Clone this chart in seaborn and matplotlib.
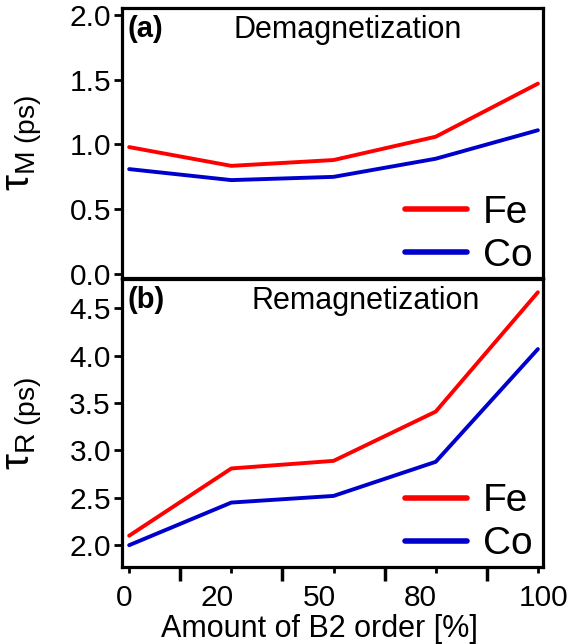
import numpy as np
import pandas as pd
import matplotlib
matplotlib.use("Agg")
import matplotlib.pyplot as plt
import matplotlib.transforms as mtransforms
import seaborn as sns

# values
b2_order = ["0", "20", "50", "80", "100"]
tau_m_fe = [0.98, 0.835, 0.88, 1.06, 1.47]
tau_m_co = [0.81, 0.725, 0.75, 0.89, 1.11]
tau_r_fe = [2.10, 2.81, 2.89, 3.41, 4.67]
tau_r_co = [2.00, 2.45, 2.52, 2.88, 4.07]
elements = ["Fe", "Co"]
colors = {"Fe": "#ff0000", "Co": "#0000cc"}

sns.set_theme(style="ticks")
plt.rcParams["font.family"] = ["Liberation Sans", "DejaVu Sans"]
plt.rcParams["mathtext.fontset"] = "custom"
plt.rcParams["mathtext.rm"] = "Liberation Sans"
plt.rcParams["mathtext.it"] = "Liberation Sans:italic"
plt.rcParams["mathtext.bf"] = "Liberation Sans:bold"
for key in ["text.color", "axes.labelcolor", "xtick.color", "ytick.color", "axes.edgecolor"]:
    plt.rcParams[key] = "black"


def make_frame(fe, co):
    pos = np.arange(len(b2_order))
    return pd.DataFrame({
        "pos": np.concatenate([pos, pos]),
        "tau": fe + co,
        "element": ["Fe"] * len(fe) + ["Co"] * len(co),
    })


fig = plt.figure(figsize=(5.72, 6.44), dpi=100)
ax_m = fig.add_axes([0.2133, 0.5683, 0.736, 0.4193])
ax_r = fig.add_axes([0.2133, 0.1196, 0.736, 0.4472])

panels = [
    (ax_m, make_frame(tau_m_fe, tau_m_co), (-0.031, 2.054), [0.0, 0.5, 1.0, 1.5, 2.0],
     "(a)", "Demagnetization", "M"),
    (ax_r, make_frame(tau_r_fe, tau_r_co), (1.77, 4.81), [2.0, 2.5, 3.0, 3.5, 4.0, 4.5],
     "(b)", "Remagnetization", "R"),
]

for ax, df, ylim, yticks, tag, title, sub in panels:
    sns.lineplot(data=df, x="pos", y="tau", hue="element", hue_order=elements,
                 palette=colors, lw=2.8, ax=ax, legend=False)
    ax.set_xlim(-0.07, 4.05)
    ax.set_ylim(*ylim)
    ax.set_yticks(yticks, labels=[f"{v:.1f}" for v in yticks])
    ax.tick_params(axis="y", labelsize=21.5, length=6, width=2, pad=2)
    for s in ax.spines.values():
        s.set_linewidth(2.3)
    ax.set_xlabel("")
    ax.set_ylabel(r"$\mathrm{\tau}_{\mathrm{" + sub + r"\ (ps)}}$", fontsize=29)
    ax.yaxis.set_label_coords(-0.185, 0.5)
    ax.text(0.012, 0.975, tag, transform=ax.transAxes, fontsize=21, fontweight="bold",
            ha="left", va="top")
    ax.text(0.535 if sub == "M" else 0.58, 0.975, title, transform=ax.transAxes,
            fontsize=22, ha="center", va="top")
    handles = [plt.Line2D([], [], color=colors[e], lw=4) for e in elements]
    ax.legend(handles, elements, loc="lower right", frameon=False, fontsize=28,
              handlelength=1.6, handletextpad=0.4, labelspacing=0.18,
              borderaxespad=0.0, borderpad=0.0,
              bbox_to_anchor=(0.975, 0.016))

ax_m.set_xticks([])
ax_m.tick_params(axis="x", length=0)

# long unlabeled ticks between the samples, short labeled ticks at the samples
ax_r.set_xticks([0.5, 1.5, 2.5, 3.5], labels=[])
ax_r.set_xticks(np.arange(len(b2_order)), labels=b2_order, minor=True)
ax_r.tick_params(axis="x", which="major", length=10, width=2.5)
ax_r.tick_params(axis="x", which="minor", length=4, width=2, labelsize=21.5, pad=8)
shifts = [-5, -14, -14, -15, 6]
for lab, dx in zip(ax_r.get_xticklabels(minor=True), shifts):
    lab.set_transform(lab.get_transform() + mtransforms.ScaledTranslation(dx / 100, 0, fig.dpi_scale_trans))
ax_r.set_xlabel("Amount of B2 order [%]", fontsize=22)
ax_r.xaxis.set_label_coords(0.47, -0.165)

fig.savefig("out.png", dpi=100)
